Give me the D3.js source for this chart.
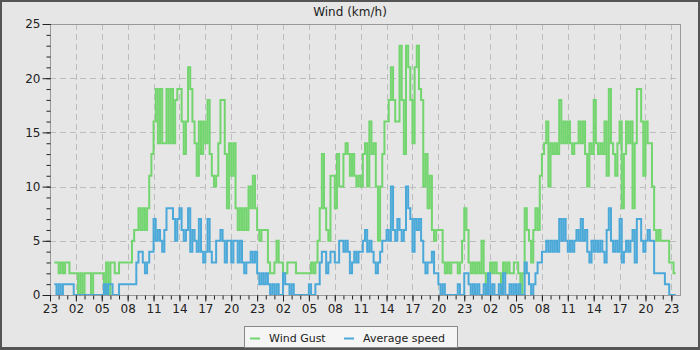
<!DOCTYPE html>
<html>
<head>
<meta charset="utf-8">
<script src="https://cdn.jsdelivr.net/npm/d3@7"></script>
<style>
body { margin: 0; }
svg { display: block; font-family: "DejaVu Sans", sans-serif; }
</style>
</head>
<body>
<script>
// readings every 15 minutes, first one at 23:30
var seriesNames = ["Wind Gust", "Average speed"];
var seriesColors = ["#72d56e", "#4ba9d9"];
var yTicks = [0, 5, 10, 15, 20, 25];

var gust = [3,3,
  2,3,2,3, 3,2,2,2, 2,0,2,0, 2,2,2,0, 2,2,2,2, 2,0,3,0, 3,3,2,2, 3,3,3,3, 3,3,5,6,
  6,8,6,8, 6,8,11,13, 16,19,14,19, 14,14,19,14, 19,14,18,19, 19,16,13,16, 21,19,16,14,
  11,16,13,16, 14,18,13,11, 10,11,14,18, 18,13,8,14, 11,14,8,6, 8,6,8,6, 10,8,11,8,
  6,5,6,6, 6,3,2,2, 3,5,3,3, 2,2,3,3, 3,3,2,2, 2,2,2,2, 2,3,2,3, 5,8,13,8,
  6,5,11,11, 8,13,10,10, 13,14,13,11, 13,11,10,11, 10,13,14,10, 16,13,14,10, 5,10,13,16,
  16,18,21,18, 16,16,23,18, 13,23,21,18, 14,21,23,19, 18,10,13,8, 11,6,5,6, 6,6,3,2,
  3,2,3,3, 3,2,3,5, 8,6,3,2, 3,2,3,2, 5,2,0,2, 3,2,3,2, 2,0,3,2, 3,2,2,3,
  3,2,0,2, 8,6,5,3, 6,8,6,11, 13,14,16,10, 14,13,14,13, 18,14,16,14, 16,14,13,14,
  14,16,14,16, 13,10,14,13, 18,14,13,14, 13,16,11,19, 14,13,11,14, 16,8,13,16,
  14,16,8,14, 19,19,16,11, 16,14,14,10, 6,5,6,5, 5,5,5,3, 3,2,2];

var avg = [1,0,
  1,0,1,1, 1,1,1,0, 0,0,0,0, 0,0,0,0, 0,0,0,0, 0,1,0,1, 1,0,0,0, 1,1,1,1, 1,1,1,1,
  3,4,4,3, 2,3,4,4, 7,5,6,5, 4,6,8,8, 8,7,5,7, 8,6,5,6, 8,4,6,5,
  4,7,4,3, 4,7,4,3, 3,5,5,6, 5,3,5,5, 3,5,5,3, 5,3,2,3, 3,4,3,4,
  2,1,2,1, 2,1,0,1, 0,1,0,0, 2,1,1,0, 1,0,0,0, 0,0,0,0, 1,0,0,1, 1,3,4,4,
  2,3,4,4, 3,3,5,5, 4,5,4,2, 3,4,3,4, 4,5,6,4, 5,4,3,2, 3,4,5,5,
  6,5,10,6, 5,7,6,5, 6,10,8,7, 4,7,6,7, 5,3,2,3, 3,4,2,2, 1,0,1,0,
  0,0,0,0, 0,1,0,0, 2,2,1,0, 1,0,1,0, 0,1,0,2, 0,1,0,0, 1,0,2,0, 0,1,0,1,
  0,1,0,0, 3,2,1,0, 1,2,3,3, 4,4,5,4, 5,4,5,4, 7,5,7,5, 4,5,4,5,
  6,5,7,5, 6,4,3,5, 4,5,4,5, 4,3,6,8, 5,4,5,4, 7,3,4,5,
  4,5,6,3, 7,7,5,4, 5,6,5,5, 2,2,2,2, 2,1,1,0, 0,0,0];

var width = 700;
var height = 350;
var padding = {top: 24, right: 20, bottom: 55, left: 50};
var plotW = width - padding.left - padding.right;
var plotH = height - padding.top - padding.bottom;

var start = new Date(2024, 0, 10, 23, 0);
var end = d3.timeHour.offset(start, 73);
var firstReading = d3.timeMinute.offset(start, 30);

var svg = d3.select("body").append("svg")
    .attr("width", width)
    .attr("height", height);

svg.append("rect").attr("width", width).attr("height", height).attr("fill", "#555");
svg.append("rect").attr("x", 2).attr("y", 2)
    .attr("width", width - 4).attr("height", height - 5)
    .attr("fill", "#e6e6e6");

var xScale = d3.scaleTime()
    .domain([start, end])
    .range([padding.left, padding.left + plotW]);
var yScale = d3.scaleLinear()
    .domain([0, 25])
    .range([padding.top + plotH, padding.top]);

var majorHours = d3.timeHour.range(start, end, 3);
var minorHours = d3.timeHour.range(start, end);

// grid
svg.append("g").selectAll("line")
    .data(majorHours.slice(1))
    .enter().append("line")
    .attr("x1", function(d) { return Math.round(xScale(d)) + 0.5; })
    .attr("x2", function(d) { return Math.round(xScale(d)) + 0.5; })
    .attr("y1", padding.top)
    .attr("y2", padding.top + plotH)
    .attr("stroke", "#bdbdbd")
    .attr("stroke-dasharray", "6,4");
svg.append("g").selectAll("line")
    .data(yTicks.slice(1, -1))
    .enter().append("line")
    .attr("x1", padding.left)
    .attr("x2", padding.left + plotW)
    .attr("y1", function(d) { return Math.round(yScale(d)) + 0.5; })
    .attr("y2", function(d) { return Math.round(yScale(d)) + 0.5; })
    .attr("stroke", "#bdbdbd")
    .attr("stroke-dasharray", "6,4");

svg.append("clipPath").attr("id", "plotclip")
    .append("rect")
    .attr("x", padding.left).attr("y", padding.top)
    .attr("width", plotW).attr("height", plotH);

var line = d3.line()
    .x(function(d, i) { return xScale(d3.timeMinute.offset(firstReading, 15 * i)); })
    .y(function(d) { return yScale(d); })
    .curve(d3.curveStepAfter);

[gust, avg].forEach(function(values, k) {
    svg.append("path")
        .datum(values)
        .attr("clip-path", "url(#plotclip)")
        .attr("fill", "none")
        .attr("stroke", seriesColors[k])
        .attr("stroke-width", 2)
        .attr("d", line);
});

// frame
svg.append("rect")
    .attr("x", padding.left + 0.5).attr("y", padding.top + 0.5)
    .attr("width", plotW).attr("height", plotH)
    .attr("fill", "none")
    .attr("stroke", "#999");

var xMinor = d3.axisBottom(xScale).tickValues(minorHours).tickSize(4).tickFormat("");
var xAxis = d3.axisBottom(xScale).tickValues(majorHours).tickSize(6)
    .tickFormat(d3.timeFormat("%H"));
var yMinor = d3.axisLeft(yScale).tickValues(d3.range(0, 26)).tickSize(4).tickFormat("");
var yAxis = d3.axisLeft(yScale).tickValues(yTicks).tickSize(8);

function styleAxis(g) {
    g.select(".domain").remove();
    g.selectAll(".tick line").attr("stroke", "#222");
    g.selectAll(".tick text")
        .attr("fill", "#222")
        .style("font-family", "DejaVu Sans")
        .style("font-size", "12px");
}

svg.append("g")
    .attr("transform", "translate(0," + (padding.top + plotH + 0.5) + ")")
    .call(xMinor).call(styleAxis);
svg.append("g")
    .attr("transform", "translate(0," + (padding.top + plotH + 0.5) + ")")
    .call(xAxis).call(styleAxis)
    .selectAll(".tick text").attr("y", 9);
svg.append("g")
    .attr("transform", "translate(" + (padding.left + 0.5) + ",0)")
    .call(yMinor).call(styleAxis);
svg.append("g")
    .attr("transform", "translate(" + (padding.left + 0.5) + ",0)")
    .call(yAxis).call(styleAxis)
    .selectAll(".tick text").attr("x", -10);

svg.append("text")
    .attr("x", width / 2)
    .attr("y", 16)
    .attr("text-anchor", "middle")
    .attr("fill", "#222")
    .style("font-size", "12px")
    .text("Wind (km/h)");

// legend
var legend = svg.append("g");
legend.append("rect")
    .attr("x", 244.5).attr("y", 326.5)
    .attr("width", 213).attr("height", 21)
    .attr("fill", "#f5f5f5")
    .attr("stroke", "#888");
var legendX = [250, 344];
seriesNames.forEach(function(name, k) {
    legend.append("line")
        .attr("x1", legendX[k]).attr("x2", legendX[k] + 10)
        .attr("y1", 338.5).attr("y2", 338.5)
        .attr("stroke", seriesColors[k])
        .attr("stroke-width", 2);
    legend.append("text")
        .attr("x", legendX[k] + 19)
        .attr("y", 341.5)
        .attr("fill", "#222")
        .style("font-size", "11px")
        .text(name);
});
</script>
</body>
</html>
